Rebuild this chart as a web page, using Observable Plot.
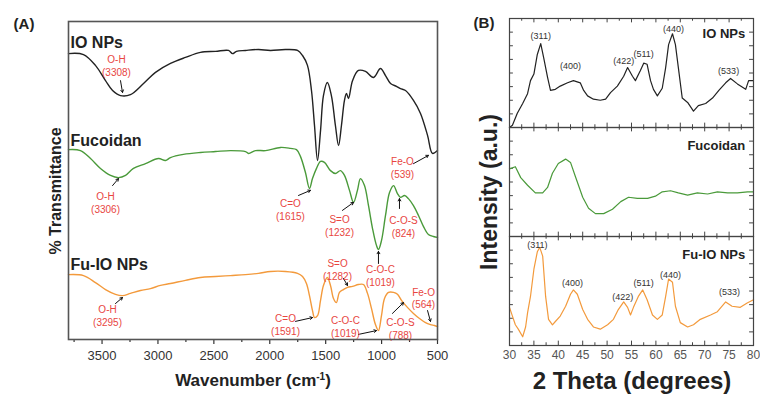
<!DOCTYPE html>
<html>
<head>
<meta charset="utf-8">
<script src="https://cdn.jsdelivr.net/npm/d3@7"></script>
<script src="https://cdn.jsdelivr.net/npm/@observablehq/plot@0.6"></script>
<style>
  html, body { margin: 0; padding: 0; background: #fff; }
  #wrap { position: relative; width: 760px; height: 395px; background: #fff; font-family: "Liberation Sans", Arial, sans-serif; overflow: hidden; }
  .abs { position: absolute; white-space: nowrap; color: #222; font-weight: bold; }
  .rot { transform: translate(-50%, -50%) rotate(-90deg); }
  .ctr { transform: translate(-50%, -50%); }
</style>
</head>
<body>
<div id="wrap">
  <div id="panelA" style="position:absolute;left:0;top:0"></div>
  <div id="panelB" style="position:absolute;left:460px;top:0"></div>
  <div class="abs ctr" style="left:24px;top:23px;font-size:15px">(A)</div>
  <div class="abs ctr" style="left:484px;top:22px;font-size:15px">(B)</div>
  <div class="abs rot" style="left:56px;top:191px;font-size:16px">% Transmittance</div>
  <div class="abs ctr" style="left:253px;top:381px;font-size:17px">Wavenumber (cm<sup style="font-size:10px">-1</sup>)</div>
  <div class="abs rot" style="left:489px;top:192px;font-size:23px">Intensity (a.u.)</div>
  <div class="abs ctr" style="left:632px;top:381px;font-size:24px">2 Theta (degrees)</div>
</div>
<script>
// ---------- Panel A: FTIR ----------
const ftirSamples = ["IO NPs", "Fucoidan", "Fu-IO NPs"];
const ioNPsWave = [3800,3666,3559,3469,3406,3335,3246,3129,3022,2888,2754,2620,2485,2369,2333,2298,2217,2101,1994,1859,1752,1707,1663,1627,1600,1573,1546,1520,1485,1449,1413,1385,1359,1332,1314,1296,1260,1207,1144,1072,1010,965,920,867,831,786,715,652,589,545,500];
const ioNPsT = [89.9,89.6,86.2,81.4,78.3,76.7,77.0,80.5,84.0,86.8,88.7,90.3,90.6,90.9,89.9,90.6,90.9,91.2,90.9,91.2,90.9,89.3,86.2,78.3,67.3,56.3,65.7,76.7,80.8,76.7,67.3,61.0,67.3,75.2,77.4,75.8,81.4,84.6,84.3,82.4,85.2,83.0,80.5,79.6,78.9,78.3,75.2,71.1,64.2,58.5,59.4];
const fucoidanWave = [3800,3693,3603,3514,3424,3353,3290,3219,3111,2995,2933,2888,2772,2620,2485,2351,2217,2190,2128,2038,1904,1815,1761,1725,1681,1645,1618,1582,1546,1511,1457,1413,1368,1332,1287,1251,1216,1189,1153,1117,1081,1046,1028,1001,965,929,893,858,831,795,760,715,670,625,581,536,500];
const fucoidanT = [59.7,59.4,56.9,53.8,51.6,50.9,51.6,53.8,55.3,56.9,56.3,57.2,58.2,58.8,59.1,59.4,59.1,58.5,59.4,59.4,60.4,60.1,59.7,57.5,52.5,47.5,50.6,53.8,56.0,55.7,53.1,52.2,53.1,51.6,46.9,43.1,46.9,50.6,48.4,42.1,34.9,29.6,28.3,31.1,39.0,46.2,48.4,45.9,44.7,45.3,44.3,42.1,39.0,35.5,33.0,32.4,32.1];
const fuIOWave = [3800,3666,3559,3469,3380,3317,3246,3156,3067,2977,2888,2754,2620,2485,2351,2217,2101,1994,1859,1752,1707,1672,1645,1618,1600,1573,1546,1520,1485,1457,1430,1404,1377,1341,1305,1260,1207,1162,1126,1090,1055,1028,1001,974,938,893,858,822,769,715,661,607,563,527,500];
const fuIOT = [20.4,20.1,17.9,15.7,14.2,13.8,14.5,15.4,16.0,17.0,17.6,18.6,19.5,19.8,20.1,20.4,20.8,21.4,21.4,20.8,19.8,17.6,13.8,9.1,6.9,7.5,12.3,17.0,19.5,17.0,12.9,11.6,14.8,15.7,16.4,16.7,17.3,17.3,14.5,9.7,4.7,2.8,7.5,12.9,14.8,14.8,14.2,12.3,10.1,8.2,6.6,5.3,4.7,4.4,4.1];
const wavenumberTicks = [3500,3000,2500,2000,1500,1000,500];
const wavenumberMinorTicks = [3750,3250,2750,2250,1750,1250,750];

// band annotations
const bandText = ["O-H\n(3308)","O-H\n(3306)","O-H\n(3295)","C=O\n(1615)","S=O\n(1232)","C-O-C\n(1019)","C-O-S\n(824)","Fe-O\n(539)","S=O\n(1282)","C=O\n(1591)","C-O-C\n(1019)","C-O-S\n(788)","Fe-O\n(564)"];
const bandTextWave = [3371,3469,3451,1815,1376,1010,804,813,1394,1859,1323,831,625];
const bandTextT = [86.3,43.1,7.7,40.9,36.0,20.3,35.7,54.2,22.2,4.9,4.1,3.6,13.1];
const arrowFromWave = [3335,3406,3380,1743,1350,1028,840,715,1341,1770,1207,903,589];
const arrowFromT = [81.4,48.4,11.3,45.3,40.6,23.9,41.2,55.3,19.2,5.7,1.6,8.2,9.1];
const arrowToWave = [3317,3353,3317,1636,1251,1028,840,581,1305,1618,1046,804,563];
const arrowToT = [77.7,50.6,13.2,46.9,43.1,27.7,44.3,57.9,17.0,6.9,2.8,11.6,5.7];
const ftirNameWave = [3782,3782,3782];
const ftirNameT = [93.4,62.6,23.6];

// ---------- Panel B: XRD ----------
const xrdSamples = ["IO NPs", "Fucoidan", "Fu-IO NPs"];
const ioNPsTheta = [30,30.6,31.6,32.7,33.7,34.3,35,35.7,36.4,37,37.8,38.4,39.4,40.4,41.9,43.1,44.5,45.2,46,47.2,48.6,49.7,50.7,52.1,53.4,54.2,55.2,55.8,56.8,57.5,58.2,58.9,59.5,60.3,61.3,62,62.6,63.4,64,64.6,65.4,66.5,67.7,68.7,70.2,71.6,72.9,74.3,75.3,76.7,78.4,79,80];
const ioNPsIntensity = [0,2,13,22,31,43,49,67,77,64,46,34,35,38,41,43,41,34,29,26,25,26,32,38,47,55,47,43,52,59,58,43,35,29,36,55,76,86,76,55,27,23,15,20,22,27,34,41,45,40,35,43,43];
const fucoidanTheta = [30,31.2,32.3,33.7,35.3,36.8,37.8,38.8,40,41.5,42.5,43.5,45,46.2,47.6,49.3,51.1,52.8,54.4,56.2,58.3,59.9,61.3,63,64.6,66.5,68.5,70.6,72.6,74.7,76.7,78.8,80];
const fucoidanIntensity = [62,64,54,47,40,40,45,58,67,71,68,55,36,26,21,21,25,32,36,35,35,37,41,42,40,38,40,39,41,40,40,41,41];
const fuIOTheta = [30,30.6,31.2,31.8,32.7,33.3,33.7,34.3,35,35.7,36.2,36.8,37.4,38,38.8,39.4,40.4,41.5,42.5,43.1,43.9,45,46,47.2,48.6,50.1,51.3,52.3,53.4,54.2,54.8,55.4,56.4,57.3,58.2,59.3,60.3,61.3,62,62.6,63.4,64,65,66.5,67.7,69.1,71.2,72.6,74.3,75.6,77.3,78.7,80];
const fuIOIntensity = [35,27,19,15,8,17,30,45,70,86,90,82,45,24,19,22,27,36,47,51,47,33,24,17,15,19,24,33,40,35,28,35,45,51,42,28,24,28,45,61,58,36,21,17,19,24,28,31,40,36,35,39,42];
const millerText = ["(311)","(400)","(422)","(511)","(440)","(533)"];
const ioNPsMillerTheta = [36.4,42.5,53.4,57.5,63.6,74.9];
const ioNPsMillerY = [83.6,56.4,60.9,67.3,90,51.8];
const fuIOMillerTheta = [35.7,42.9,53.2,57.5,63.0,75.1];
const fuIOMillerY = [92,57.4,44.7,57.4,64.7,49.2];
const thetaTicks = [30,35,40,45,50,55,60,65,70,75,80];
const thetaMinorTicks = [32.5,37.5,42.5,47.5,52.5,57.5,62.5,67.5,72.5,77.5];
const intensityTicks = [12.5,25,37.5,50,62.5,75,87.5];
const xrdNameY = [85.5,83.6,83];

const colors = {"IO NPs": "#222222", "Fucoidan": "#4a9a3a", "Fu-IO NPs": "#f39a3c"};
const red = "#e8463f";
const font = "'Liberation Sans', Arial, sans-serif";

// ---- build panel A ----
const zip = (xs, ys, k1, k2) => xs.map((x, i) => ({[k1]: x, [k2]: ys[i]}));
const ftirSeries = [
  zip(ioNPsWave, ioNPsT, "w", "t"),
  zip(fucoidanWave, fucoidanT, "w", "t"),
  zip(fuIOWave, fuIOT, "w", "t")
];
const bandLabels = bandText.map((t, i) => ({text: t, w: bandTextWave[i], t: bandTextT[i]}));
const bandArrows = arrowFromWave.map((w, i) => ({x1: w, y1: arrowFromT[i], x2: arrowToWave[i], y2: arrowToT[i]}));
const ftirNames = ftirSamples.map((s, i) => ({s, w: ftirNameWave[i], t: ftirNameT[i]}));

const chartA = Plot.plot({
  width: 450, height: 395,
  marginLeft: 68, marginRight: 13, marginTop: 21, marginBottom: 56,
  x: {domain: [3800, 500]},
  y: {domain: [0, 100], axis: null},
  style: {fontFamily: font, fontSize: "13px", color: "#333", background: "transparent"},
  marks: [
    Plot.axisX({ticks: wavenumberMinorTicks, tickSize: 3, text: null, label: null, strokeWidth: 1.2}),
    Plot.axisX({ticks: wavenumberTicks, tickSize: 5, tickPadding: 6, tickFormat: d => String(d), label: null, fontSize: 13, strokeWidth: 1.2}),
    ...ftirSeries.map((data, i) => Plot.line(data, {x: "w", y: "t", stroke: colors[ftirSamples[i]], strokeWidth: 1.4, curve: "catmull-rom"})),
    Plot.arrow(bandArrows, {x1: "x1", y1: "y1", x2: "x2", y2: "y2", stroke: "#111", strokeWidth: 1, headLength: 4}),
    Plot.text(bandLabels, {x: "w", y: "t", text: "text", fill: red, fontSize: 10, lineHeight: 1.3}),
    Plot.text(ftirNames, {x: "w", y: "t", text: "s", textAnchor: "start", fontSize: 16, fontWeight: "bold", fill: "#222"}),
    Plot.frame({stroke: "#555", strokeWidth: 1.6})
  ]
});
document.getElementById("panelA").appendChild(chartA);

// ---- build panel B ----
const xrdRows = [
  ...ioNPsTheta.map((x, i) => ({sample: "IO NPs", theta: x, intensity: ioNPsIntensity[i]})),
  ...fucoidanTheta.map((x, i) => ({sample: "Fucoidan", theta: x, intensity: fucoidanIntensity[i]})),
  ...fuIOTheta.map((x, i) => ({sample: "Fu-IO NPs", theta: x, intensity: fuIOIntensity[i]}))
];
const millerRows = [
  ...millerText.map((t, i) => ({sample: "IO NPs", text: t, theta: ioNPsMillerTheta[i], y: ioNPsMillerY[i]})),
  ...millerText.map((t, i) => ({sample: "Fu-IO NPs", text: t, theta: fuIOMillerTheta[i], y: fuIOMillerY[i]}))
];
const xrdNames = xrdSamples.map((s, i) => ({sample: s, y: xrdNameY[i]}));

const chartB = Plot.plot({
  width: 300, height: 395,
  marginLeft: 49, marginRight: 7, marginTop: 17, marginBottom: 49,
  x: {domain: [30, 80]},
  y: {domain: [0, 100], axis: null},
  fy: {domain: xrdSamples, padding: 0, axis: null},
  style: {fontFamily: font, fontSize: "12px", color: "#444", background: "transparent"},
  marks: [
    Plot.ruleX(thetaTicks, {x: d => d, y1: 0, y2: 4, stroke: "#444"}),
    Plot.ruleX(thetaTicks, {x: d => d, y1: 96, y2: 100, stroke: "#444"}),
    Plot.ruleX(thetaMinorTicks, {x: d => d, y1: 0, y2: 2.5, stroke: "#444"}),
    Plot.ruleX(thetaMinorTicks, {x: d => d, y1: 97.5, y2: 100, stroke: "#444"}),
    Plot.ruleY(intensityTicks, {y: d => d, x1: 30, x2: 30.8, stroke: "#444"}),
    Plot.ruleY(intensityTicks, {y: d => d, x1: 79.2, x2: 80, stroke: "#444"}),
    ...xrdSamples.map(s => Plot.line(xrdRows.filter(d => d.sample === s), {x: "theta", y: "intensity", fy: "sample", stroke: colors[s], strokeWidth: 1.2})),
    Plot.text(millerRows, {x: "theta", y: "y", fy: "sample", text: "text", fontSize: 9, fill: "#333"}),
    Plot.text(xrdNames, {x: 78.3, y: "y", fy: "sample", text: "sample", textAnchor: "end", fontSize: 13, fontWeight: "bold", fill: "#222"}),
    Plot.frame({stroke: "#444", strokeWidth: 1.2}),
    Plot.axisX({ticks: thetaTicks, tickSize: 0, tickPadding: 5, label: null, fontSize: 12, fill: "#555"})
  ]
});
document.getElementById("panelB").appendChild(chartB);
</script>
</body>
</html>
